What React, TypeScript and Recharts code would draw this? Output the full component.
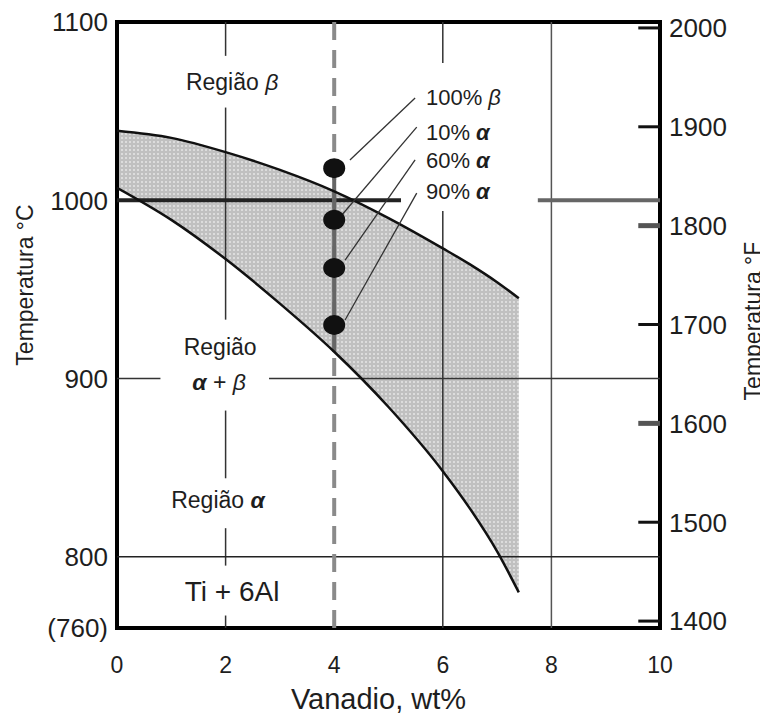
import React from 'react';
import {
  ComposedChart,
  XAxis,
  YAxis,
  Line,
  Area,
  Scatter,
  ReferenceLine,
  ReferenceDot,
  ReferenceArea,
} from 'recharts';

// Phase boundaries of Ti-6Al-xV (°C vs wt% V)
const vanadium = [0, 1, 2, 3, 4, 5, 6, 6.5, 7, 7.4];
const betaTransus = [1039, 1035, 1027, 1017, 1005, 990, 973, 964, 954, 945];
const alphaBoundary = [1007, 989, 967, 942, 915, 884, 848, 827, 803, 780];

// Sample points at 4 wt% V
const sampleVanadium = [4, 4, 4, 4];
const sampleTemps = [1018, 989, 962, 930];
const samplePercent = ['100%', '10%', '60%', '90%'];
const samplePhase = ['β', 'α', 'α', 'α'];
const sampleLabelX = 5.69;
const sampleLabelTemps = [1058, 1038.5, 1022.5, 1005];
const leaderStartX = [4.29, 4.11, 4.2, 4.2];
const leaderStartTemp = [1022.6, 990.6, 966.4, 932.8];
const leaderEndX = [5.49, 5.52, 5.49, 5.52];
const leaderEndTemp = [1057.4, 1041, 1022.6, 1004];

// Axes
const xTicks = [0, 2, 4, 6, 8, 10];
const celsiusTicks = [760, 800, 900, 1000, 1100];
const fahrenheitTicks = [1400, 1500, 1600, 1700, 1800, 1900, 2000];
const thickFahrenheitTicks = [1600, 1800];

const FONT = '"Liberation Sans", Arial, Helvetica, sans-serif';
const INK = '#1e1e1e';

const phaseData = vanadium.map((x, i) => ({
  x,
  upper: betaTransus[i],
  lower: alphaBoundary[i],
  range: [alphaBoundary[i], betaTransus[i]],
}));
const sampleData = sampleVanadium.map((x, i) => ({ x, y: sampleTemps[i] }));
const leaders = leaderStartX.map((x, i) => [
  { x, y: leaderStartTemp[i] },
  { x: leaderEndX[i], y: leaderEndTemp[i] },
]);

type Part = { t: string; greek?: boolean; bold?: boolean };

const RichLabel = (props: any) => {
  const { viewBox, parts, fontSize = 22, anchor = 'middle' } = props;
  const cx = viewBox.x + (viewBox.width || 0) / 2;
  const cy = viewBox.y + (viewBox.height || 0) / 2;
  return (
    <text
      x={cx}
      y={cy}
      dy="0.36em"
      textAnchor={anchor}
      fontFamily={FONT}
      fontSize={fontSize}
      fill={INK}
    >
      {parts.map((p: Part, i: number) => (
        <tspan
          key={i}
          fontStyle={p.greek ? 'italic' : 'normal'}
          fontWeight={p.bold ? 'bold' : 'normal'}
        >
          {p.t}
        </tspan>
      ))}
    </text>
  );
};

const LeftTick = (props: any) => {
  const { x, y, payload } = props;
  return (
    <text x={x - 9} y={y} dy="0.36em" textAnchor="end" fontSize={26} fontFamily={FONT} fill={INK}>
      {payload.value === 760 ? '(760)' : payload.value}
    </text>
  );
};

const RightTick = (props: any) => {
  const { x, y, payload } = props;
  return (
    <text x={x + 9} y={y} dy="0.36em" textAnchor="start" fontSize={26} fontFamily={FONT} fill={INK}>
      {payload.value}
    </text>
  );
};

const BottomTick = (props: any) => {
  const { x, y, payload } = props;
  return (
    <text x={x} y={y + 45} textAnchor="middle" fontSize={23} fontFamily={FONT} fill={INK}>
      {payload.value}
    </text>
  );
};

const LeftTitle = (props: any) => {
  const { viewBox } = props;
  const cx = viewBox.x + 17;
  const cy = viewBox.y + 263;
  return (
    <text
      x={cx}
      y={cy}
      dy="0.36em"
      textAnchor="middle"
      transform={`rotate(-90, ${cx}, ${cy})`}
      fontSize={23}
      fontFamily={FONT}
      fill={INK}
    >
      Temperatura °C
    </text>
  );
};

const RightTitle = (props: any) => {
  const { viewBox } = props;
  const cx = viewBox.x + 93;
  const cy = viewBox.y + 299;
  return (
    <text
      x={cx}
      y={cy}
      dy="0.36em"
      textAnchor="middle"
      transform={`rotate(-90, ${cx}, ${cy})`}
      fontSize={23}
      fontFamily={FONT}
      fill={INK}
    >
      Temperatura °F
    </text>
  );
};

const BottomTitle = (props: any) => {
  const { viewBox } = props;
  return (
    <text
      x={viewBox.x + viewBox.width / 2 - 10}
      y={viewBox.y + 81}
      textAnchor="middle"
      fontSize={29}
      fontFamily={FONT}
      fill={INK}
    >
      Vanadio, wt%
    </text>
  );
};

const seg = (x1: number, y1: number, x2: number, y2: number) => [
  { x: x1, y: y1 },
  { x: x2, y: y2 },
];

export default function App() {
  const Y = 'left';
  const thin = { stroke: '#333', strokeWidth: 1.5 };
  return (
    <ComposedChart width={760} height={708} margin={{ top: 14, right: 0, bottom: 0, left: 0 }}>
      <defs>
        <pattern id="dotfill" width="4" height="4" patternUnits="userSpaceOnUse">
          <rect width="4" height="4" fill="#c0c0c0" />
          <circle cx="2" cy="2" r="1" fill="#e6e6e6" />
        </pattern>
      </defs>
      <XAxis
        dataKey="x"
        type="number"
        domain={[0, 10]}
        ticks={xTicks}
        allowDataOverflow
        height={88}
        axisLine={false}
        tickLine={false}
        tickSize={0}
        tickMargin={0}
        tick={<BottomTick />}
        interval={0}
        label={<BottomTitle />}
      />
      <YAxis
        yAxisId="left"
        type="number"
        domain={[760, 1100]}
        ticks={celsiusTicks}
        allowDataOverflow
        width={109}
        axisLine={false}
        tickLine={false}
        tickSize={0}
        tickMargin={0}
        tick={<LeftTick />}
        interval={0}
        label={<LeftTitle />}
      />
      <YAxis
        yAxisId="right"
        orientation="right"
        type="number"
        domain={[1393, 2006]}
        ticks={fahrenheitTicks}
        allowDataOverflow
        width={108}
        axisLine={false}
        tickLine={false}
        tickSize={0}
        tickMargin={0}
        tick={<RightTick />}
        interval={0}
        label={<RightTitle />}
      />

      {/* two-phase region shading */}
      <Area
        yAxisId={Y}
        data={phaseData}
        dataKey="range"
        type="monotone"
        fill="url(#dotfill)"
        fillOpacity={1}
        stroke="none"
        isAnimationActive={false}
      />

      {/* grid-like guide lines */}
      <ReferenceLine yAxisId={Y} segment={seg(2, 1100, 2, 1081)} {...thin} />
      <ReferenceLine yAxisId={Y} segment={seg(2, 1052, 2, 933)} {...thin} />
      <ReferenceLine yAxisId={Y} segment={seg(2, 882, 2, 844)} {...thin} />
      <ReferenceLine yAxisId={Y} segment={seg(2, 816, 2, 795)} {...thin} />
      <ReferenceLine yAxisId={Y} segment={seg(2, 767, 2, 760)} {...thin} />
      <ReferenceLine yAxisId={Y} segment={seg(6, 1100, 6, 1077)} {...thin} />
      <ReferenceLine yAxisId={Y} segment={seg(6, 994, 6, 760)} {...thin} />
      <ReferenceLine yAxisId={Y} x={8} stroke="#555" strokeWidth={1.5} />
      <ReferenceLine yAxisId={Y} y={800} stroke="#222" strokeWidth={1.5} />
      <ReferenceLine yAxisId={Y} segment={seg(0, 900, 0.8, 900)} {...thin} />
      <ReferenceLine yAxisId={Y} segment={seg(2.8, 900, 10, 900)} {...thin} />
      <ReferenceLine yAxisId={Y} segment={seg(0, 1000, 5.23, 1000)} stroke="#222" strokeWidth={4} />
      <ReferenceLine yAxisId={Y} segment={seg(7.75, 1000, 10, 1000)} stroke="#666" strokeWidth={4} />
      <ReferenceLine yAxisId={Y} x={4} stroke="#8a8a8a" strokeWidth={4} strokeDasharray="18 10" />
      <ReferenceLine yAxisId={Y} segment={seg(4, 1020, 4, 915)} stroke="#666" strokeWidth={4} />

      {/* inward Fahrenheit tick marks on the right frame */}
      {fahrenheitTicks.map((f) => {
        const thick = thickFahrenheitTicks.includes(f);
        return (
          <ReferenceLine
            key={`ft-${f}`}
            yAxisId="right"
            segment={seg(9.6, f, 10, f)}
            stroke={thick ? '#555' : '#111'}
            strokeWidth={thick ? 5 : 3}
            ifOverflow="visible"
          />
        );
      })}

      {/* phase boundaries */}
      <Line
        yAxisId={Y}
        data={phaseData}
        dataKey="upper"
        type="monotone"
        stroke="#111"
        strokeWidth={2.5}
        dot={false}
        isAnimationActive={false}
      />
      <Line
        yAxisId={Y}
        data={phaseData}
        dataKey="lower"
        type="monotone"
        stroke="#111"
        strokeWidth={2.5}
        dot={false}
        isAnimationActive={false}
      />

      {/* leader lines */}
      {leaders.map((d, i) => (
        <Line
          key={`leader-${i}`}
          yAxisId={Y}
          data={d}
          dataKey="y"
          type="linear"
          stroke="#333"
          strokeWidth={1.3}
          dot={false}
          isAnimationActive={false}
        />
      ))}

      <Scatter
        yAxisId={Y}
        data={sampleData}
        dataKey="y"
        isAnimationActive={false}
        shape={(p: any) => <ellipse cx={p.cx} cy={p.cy} rx={11} ry={10} fill="#111" />}
      />

      {/* text annotations */}
      <ReferenceDot
        yAxisId={Y}
        x={2.12}
        y={1066.3}
        r={0}
        stroke="none"
        fill="none"
        label={<RichLabel fontSize={23} parts={[{ t: 'Região ' }, { t: 'β', greek: true }]} />}
      />
      <ReferenceDot
        yAxisId={Y}
        x={1.9}
        y={917.6}
        r={0}
        stroke="none"
        fill="none"
        label={<RichLabel fontSize={23} parts={[{ t: 'Região' }]} />}
      />
      <ReferenceDot
        yAxisId={Y}
        x={1.88}
        y={898}
        r={0}
        stroke="none"
        fill="none"
        label={
          <RichLabel
            fontSize={23}
            parts={[{ t: 'α', greek: true, bold: true }, { t: ' + ' }, { t: 'β', greek: true }]}
          />
        }
      />
      <ReferenceDot
        yAxisId={Y}
        x={1.86}
        y={831.8}
        r={0}
        stroke="none"
        fill="none"
        label={<RichLabel fontSize={23} parts={[{ t: 'Região ' }, { t: 'α', greek: true, bold: true }]} />}
      />
      <ReferenceDot
        yAxisId={Y}
        x={2.12}
        y={781}
        r={0}
        stroke="none"
        fill="none"
        label={<RichLabel fontSize={28} parts={[{ t: 'Ti + 6Al' }]} />}
      />
      {samplePercent.map((pct, i) => (
        <ReferenceDot
          key={`lab-${i}`}
          yAxisId={Y}
          x={sampleLabelX}
          y={sampleLabelTemps[i]}
          r={0}
          stroke="none"
          fill="none"
          label={
            <RichLabel
              fontSize={22}
              anchor="start"
              parts={[{ t: pct + ' ' }, { t: samplePhase[i], greek: true, bold: samplePhase[i] === 'α' }]}
            />
          }
        />
      ))}

      {/* frame */}
      <ReferenceArea
        yAxisId={Y}
        x1={0}
        x2={10}
        y1={760}
        y2={1100}
        fill="none"
        fillOpacity={0}
        stroke="#000"
        strokeWidth={4}
        ifOverflow="visible"
      />
    </ComposedChart>
  );
}
